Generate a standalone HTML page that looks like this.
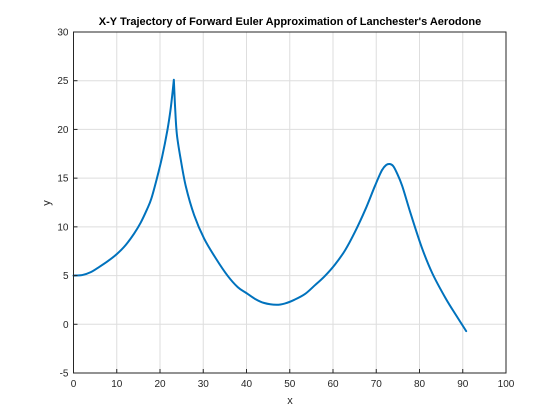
<!DOCTYPE html>
<html><head><meta charset="utf-8"><style>
html,body{margin:0;padding:0;background:#fff;}
svg{display:block;font-family:"Liberation Sans",Arial,sans-serif;}
</style></head><body>
<svg id="chart" width="560" height="420" viewBox="0 0 560 420">
<rect x="0" y="0" width="560" height="420" fill="#fff"/>
<g id="grid"></g>
<g id="series"></g>
<g id="axes"></g>
<text x="290" y="25" text-anchor="middle" font-size="11" font-weight="bold" fill="#000">X-Y Trajectory of Forward Euler Approximation of Lanchester's Aerodone</text>
<text x="290" y="404" text-anchor="middle" font-size="11" fill="#262626">x</text>
<text x="50" y="203" text-anchor="middle" font-size="11" fill="#262626" transform="rotate(-90 50 203)">y</text>
</svg>
<script>
const xTicks=[0,10,20,30,40,50,60,70,80,90,100];
const yTicks=[-5,0,5,10,15,20,25,30];
const xs=[0,2,4,6,8,10,12,14,15.5,17,18,19.3,20.5,21.7,22.4,22.9,23.2,23.5,23.9,24.8,26,27.9,30.2,33,35.6,38,40,42,44,46.9,49,51,53.5,55.8,58,60.4,62.8,65.1,67.5,69.7,71.3,72.3,73.1,73.9,74.7,76,78,80.6,83,86,88.5,90.8];
const ys=[5,5.05,5.35,5.9,6.5,7.2,8.1,9.3,10.4,11.8,12.9,15.0,17.2,19.9,21.9,23.8,25.1,22.2,19.5,16.9,14.1,11.2,8.8,6.7,5.0,3.8,3.2,2.6,2.2,2.0,2.15,2.5,3.1,4.0,4.9,6.1,7.6,9.5,11.8,14.2,15.8,16.35,16.45,16.25,15.6,14.2,11.3,7.8,5.2,2.7,0.9,-0.7];
const L=73.5,R=506,T=32,B=373;
function sx(v){return L+(v-0)/(100-0)*(R-L);}
function sy(v){return B-(v-(-5))/(30-(-5))*(B-T);}
const NS="http://www.w3.org/2000/svg";
const grid=document.getElementById('grid'),axes=document.getElementById('axes'),series=document.getElementById('series');
function mk(tag,attrs,parent){const e=document.createElementNS(NS,tag);for(const k in attrs)e.setAttribute(k,attrs[k]);parent.appendChild(e);return e;}
xTicks.forEach(t=>{
  const g=mk('line',{x1:sx(t),x2:sx(t),y1:T,y2:B,stroke:'#dedede','stroke-width':1},grid);
  
  
  const tk=mk('line',{x1:sx(t),x2:sx(t),y1:B,y2:B-4,stroke:'#262626','stroke-width':1},axes);
  
  
  const tx=mk('text',{x:sx(t),y:B+14,'text-anchor':'middle','font-size':10,fill:'#262626'},axes);
  tx.textContent=t;
  
  
});
yTicks.forEach(t=>{
  const g=mk('line',{x1:L,x2:R,y1:sy(t),y2:sy(t),stroke:'#dedede','stroke-width':1},grid);
  
  
  const tk=mk('line',{x1:L,x2:L+4,y1:sy(t),y2:sy(t),stroke:'#262626','stroke-width':1},axes);
  
  
  const tx=mk('text',{x:L-5,y:sy(t)+3.5,'text-anchor':'end','font-size':10,fill:'#262626'},axes);
  tx.textContent=t;
  
  
});
const box=mk('rect',{x:L,y:T,width:R-L,height:B-T,fill:'none',stroke:'#262626','stroke-width':1},axes);


const P=xs.map((x,i)=>[sx(x),sy(ys[i])]);
let cusp=0;ys.forEach((v,i)=>{if(v>ys[cusp])cusp=i;});
function crPath(pts){
  let d='M'+pts[0][0].toFixed(2)+','+pts[0][1].toFixed(2);
  for(let i=0;i<pts.length-1;i++){
    const p0=pts[i-1]||pts[i],p1=pts[i],p2=pts[i+1],p3=pts[i+2]||pts[i+1];
    const c1=[p1[0]+(p2[0]-p0[0])/6,p1[1]+(p2[1]-p0[1])/6];
    const c2=[p2[0]-(p3[0]-p1[0])/6,p2[1]-(p3[1]-p1[1])/6];
    d+=' C'+c1.map(v=>v.toFixed(2)).join(',')+' '+c2.map(v=>v.toFixed(2)).join(',')+' '+p2[0].toFixed(2)+','+p2[1].toFixed(2);
  }
  return d;
}
const d=crPath(P.slice(0,cusp+1))+' '+crPath(P.slice(cusp)).replace(/^M[^ ]+/,'');
const line=mk('path',{d:d,fill:'none',stroke:'#0072bd','stroke-width':2,'stroke-linejoin':'round','stroke-linecap':'round'},series);


</script>
</body></html>
